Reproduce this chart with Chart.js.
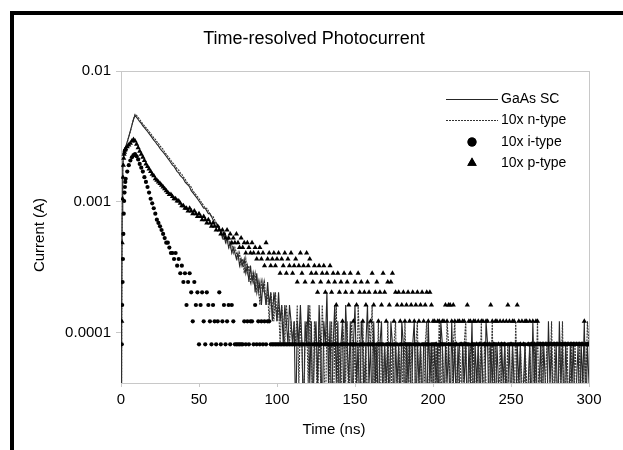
<!DOCTYPE html>
<html>
<head>
<meta charset="utf-8">
<title>Time-resolved Photocurrent</title>
<script src="https://cdn.jsdelivr.net/npm/chart.js@4.4.1/dist/chart.umd.min.js"></script>
<style>
  html, body { margin: 0; padding: 0; background: #fff; }
  canvas { display: block; }
</style>
</head>
<body>
<canvas id="grafik" width="623" height="450"></canvas>
<script>
// sample times in ns: quarter steps over the rise, then 1 ns
const timeNs = [
  0, 0.25, 0.5, 0.75, 1, 1.25, 1.5, 1.75, 2, 2.25, 2.5, 2.75, 3,
  4, 5, 6, 7, 8, 9,
  10, 11, 12, 13, 14, 15, 16, 17, 18, 19,
  20, 21, 22, 23, 24, 25, 26, 27, 28, 29,
  30, 31, 32, 33, 34, 35, 36, 37, 38, 39,
  40, 41, 42, 43, 44, 45, 46, 47, 48, 49,
  50, 51, 52, 53, 54, 55, 56, 57, 58, 59,
  60, 61, 62, 63, 64, 65, 66, 67, 68, 69,
  70, 71, 72, 73, 74, 75, 76, 77, 78, 79,
  80, 81, 82, 83, 84, 85, 86, 87, 88, 89,
  90, 91, 92, 93, 94, 95, 96, 97, 98, 99,
  100, 101, 102, 103, 104, 105, 106, 107, 108, 109,
  110, 111, 112, 113, 114, 115, 116, 117, 118, 119,
  120, 121, 122, 123, 124, 125, 126, 127, 128, 129,
  130, 131, 132, 133, 134, 135, 136, 137, 138, 139,
  140, 141, 142, 143, 144, 145, 146, 147, 148, 149,
  150, 151, 152, 153, 154, 155, 156, 157, 158, 159,
  160, 161, 162, 163, 164, 165, 166, 167, 168, 169,
  170, 171, 172, 173, 174, 175, 176, 177, 178, 179,
  180, 181, 182, 183, 184, 185, 186, 187, 188, 189,
  190, 191, 192, 193, 194, 195, 196, 197, 198, 199,
  200, 201, 202, 203, 204, 205, 206, 207, 208, 209,
  210, 211, 212, 213, 214, 215, 216, 217, 218, 219,
  220, 221, 222, 223, 224, 225, 226, 227, 228, 229,
  230, 231, 232, 233, 234, 235, 236, 237, 238, 239,
  240, 241, 242, 243, 244, 245, 246, 247, 248, 249,
  250, 251, 252, 253, 254, 255, 256, 257, 258, 259,
  260, 261, 262, 263, 264, 265, 266, 267, 268, 269,
  270, 271, 272, 273, 274, 275, 276, 277, 278, 279,
  280, 281, 282, 283, 284, 285, 286, 287, 288, 289,
  290, 291, 292, 293, 294, 295, 296, 297, 298, 299,
  300
];

// scope readings in counts (one count = ampsPerCount), null = no point shown
const ampsPerCount = 4.05e-5;

const gaasCounts = [
  0, 0, 3, 20, 38, 48, 54, 58, 61, 62, 63, 64, 65,
  71, 78, 86, 95, 105, 113,
  109, 105, 101, 98, 94, 91, 88, 85, 82, 79,
  76, 73, 71, 68, 66, 63, 61, 59, 57, 55,
  53, 51, 49, 47, 46, 44, 42, 41, 39, 38,
  37, 35, 34, 33, 32, 30, 29, 28, 27, 26,
  25, 24, 23, 22, 22, 21, 20, 20, 19, 18,
  17, 17, 16, 15, 15, 13, 14, 12, 13, 11,
  12, 10, 11, 10, 9, 10, 8, 9, 8, 9,
  7, 8, 6, 8, 6, 7, 5, 7, 5, 6,
  4, 6, 5, 4, 6, 4, 5, 3, 5, 4,
  3, 5, 3, 4, 2, 4, 3, 2, 4, 3,
  2, 3, 0, 3, 2, 4, 2, 0, 3, 2,
  4, 1, 3, 0, 2, 3, 1, 4, 2, 0,
  3, 2, 5, 1, 3, 0, 2, 4, 1, 3,
  0, 2, 3, 0, 4, 2, 1, 3, 0, 2,
  4, 1, 2, 0, 3, 2, 0, 2, 4, 1,
  2, 0, 3, 1, 2, 0, 2, 3, 0, 2,
  1, 2, 0, 3, 2, 0, 2, 1, 2, 0,
  3, 2, 0, 2, 1, 2, 0, 2, 3, 0,
  2, 1, 2, 0, 2, 2, 0, 3, 1, 2,
  0, 2, 1, 2, 0, 3, 2, 0, 2, 1,
  2, 0, 3, 1, 2, 0, 2, 1, 0, 2,
  1, 2, 0, 2, 1, 3, 0, 2, 1, 2,
  0, 2, 1, 0, 3, 2, 0, 2, 1, 2,
  0, 2, 1, 0, 2, 1, 2, 0, 1, 2,
  0, 2, 1, 0, 2, 1, 2, 0, 1, 2,
  0, 1, 2, 0, 3, 1, 2, 0, 1, 2,
  0, 2, 1, 0, 3, 1, 2, 0, 1, 2,
  0, 3, 1, 2, 0, 2, 1, 0, 2, 1,
  2, 0, 1, 2, 0, 2, 1, 3, 0, 2,
  1
];

const nTypeCounts = [
  0, 0, 2, 18, 36, 47, 53, 57, 60, 61, 62, 63, 64,
  70, 77, 85, 95, 106, 115,
  113, 109, 105, 101, 97, 94, 91, 88, 85, 82,
  79, 76, 74, 71, 69, 66, 64, 62, 59, 57,
  55, 53, 51, 49, 48, 46, 44, 43, 41, 40,
  38, 37, 35, 34, 33, 32, 30, 29, 28, 27,
  26, 25, 24, 23, 22, 22, 21, 20, 19, 19,
  18, 17, 16, 16, 14, 15, 13, 14, 12, 13,
  11, 12, 10, 11, 10, 9, 10, 8, 9, 7,
  9, 7, 8, 6, 7, 6, 7, 5, 6, 4,
  6, 5, 6, 4, 5, 3, 5, 4, 3, 5,
  3, 4, 2, 4, 3, 2, 4, 3, 2, 3,
  2, 3, 2, 4, 1, 3, 2, 0, 2, 3,
  1, 4, 2, 0, 3, 2, 0, 3, 1, 4,
  2, 0, 3, 2, 1, 3, 0, 2, 4, 1,
  2, 0, 3, 2, 1, 3, 0, 2, 3, 1,
  2, 0, 4, 2, 0, 3, 1, 2, 0, 3,
  2, 4, 0, 2, 1, 3, 0, 2, 1, 2,
  0, 3, 1, 2, 0, 2, 3, 0, 2, 1,
  2, 0, 3, 1, 2, 0, 2, 1, 0, 2,
  3, 0, 2, 1, 0, 2, 3, 0, 2, 1,
  2, 0, 2, 1, 3, 0, 2, 1, 0, 3,
  2, 1, 0, 2, 3, 1, 0, 2, 1, 0,
  2, 3, 0, 1, 2, 0, 2, 1, 0, 2,
  1, 3, 0, 2, 1, 0, 2, 1, 3, 0,
  2, 1, 0, 2, 1, 0, 2, 1, 2, 0,
  1, 2, 0, 3, 1, 0, 2, 1, 0, 2,
  1, 0, 2, 1, 0, 2, 1, 3, 0, 1,
  2, 0, 1, 2, 0, 1, 3, 0, 2, 1,
  0, 2, 1, 3, 0, 1, 2, 0, 1, 2,
  0, 2, 1, 0, 2, 1, 0, 2, 1, 3,
  2
];

const iTypeCounts = [
  null, null, 2, 4, 6, 9, 14, 20, 25, 29, 32, 35, 37,
  42, 47, 51, 54, 56, 57,
  55, 52, 48, 45, 42, 38, 35, 32, 29, 26,
  24, 22, 20, 18, 17, 16, 15, 14, 13, 12,
  12, 11, 10, 10, 9, 10, 8, 9, 7, 8,
  6, 7, 4, 6, 7, 5, 3, 6, 4, 5,
  2, 4, 5, 3, 2, 5, 4, 3, 2, 4,
  3, 2, 3, 5, 2, 3, 4, 2, 3, 4,
  2, 4, 3, 2, 2, 2, 2, 2, 2, 3,
  2, 3, 2, 3, 3, 2, 4, 2, 3, 2,
  3, 2, 3, 2, 3, 3, 2, 2, 2, 2,
  2, 2, 2, 2, 2, 2, 2, 2, 2, 2,
  2, 2, 2, null, 2, 2, 2, 2, null, 2,
  2, 2, null, 2, 2, 2, 2, 2, 2, null,
  2, 2, 2, 2, null, 2, 2, 2, 2, 2,
  null, 2, 2, 2, 2, 2, null, 2, 2, 2,
  2, 2, null, 2, 2, 2, 2, null, 2, 2,
  2, 2, 2, null, 2, 2, 2, 2, 2, null,
  2, 2, 2, 2, null, 2, 2, 2, null, 2,
  2, null, 2, 2, 2, 2, 2, null, 2, 2,
  2, 2, null, 2, 2, 2, 2, 2, null, 2,
  2, 2, 2, null, 2, 2, 2, 2, 2, null,
  2, 2, null, 2, 2, 2, null, 2, 2, 2,
  2, 2, 2, 2, null, 2, 2, 2, null, 2,
  2, null, 2, 2, 2, 2, null, 2, 2, 2,
  2, 2, null, 2, 2, 2, 2, null, 2, 2,
  2, 2, 2, null, 2, 2, 2, null, 2, 2,
  null, 2, 2, 2, 2, null, 2, 2, 2, 2,
  2, 2, null, 2, 2, 2, null, 2, 2, 2,
  2, null, 2, 2, 2, 2, 2, null, 2, 2,
  2, 2, null, 2, 2, 2, 2, null, 2, 2,
  2
];

const pTypeCounts = [
  null, null, 3, 12, 26, 38, 47, 53, 57, 59, 61, 62, 63,
  65, 67, 69, 72, 74, 72,
  68, 64, 60, 57, 54, 51, 48, 46, 44, 42,
  40, 39, 37, 36, 35, 34, 33, 32, 31, 30,
  29, 28, 28, 27, 26, 26, 25, 25, 24, 23,
  23, 22, 22, 21, 22, 21, 20, 21, 20, 19,
  20, 19, 18, 19, 18, 17, 18, 17, 16, 17,
  16, 15, 16, 15, 14, 15, 14, 13, 15, 13,
  14, 12, 13, 12, 14, 12, 11, 13, 11, 12,
  10, 12, 11, 10, 12, 10, 11, 9, 10, 11,
  9, 10, 8, 12, 9, 10, 8, 9, 10, 8,
  9, 10, 7, 9, 8, 10, 7, 9, 8, 10,
  7, 8, 9, 6, 8, 10, 7, 8, 6, 10,
  8, 9, 7, 6, 8, 7, 5, 8, 6, 7,
  8, 5, 7, 6, 8, 5, 7, 6, 4, 7,
  5, 6, 3, 7, 5, 6, 4, 7, 5, 3,
  6, 4, 7, 5, 6, 3, 5, 4, 6, 5,
  3, 7, 4, 5, 6, 3, 5, 4, 7, 5,
  3, 6, 4, 6, 7, 3, 5, 4, 5, 3,
  4, 5, 3, 4, 5, 3, 4, 5, 3, 4,
  5, 3, 4, 5, 3, 4, 5, 3, 5, 4,
  3, 3, 2, 3, 3, 2, 3, 3, 4, 3,
  4, 4, 3, 4, 3, 2, 3, 3, 2, 3,
  3, 2, 4, 3, 3, 2, 3, 3, 2, 3,
  2, 3, 3, 2, 3, 3, 2, 4, 3, 2,
  3, 3, 2, 3, 2, 3, 2, 3, 4, 3,
  2, 3, 3, 2, 4, 3, 2, 3, 2, 3,
  3, 2, 3, 2, 3, 2, 3, 3, 2, 2,
  2, 2, 2, 2, 2, 2, 2, 2, 2, 2,
  2, 2, 2, 2, 2, 2, 2, 2, 2, 2,
  2, 2, 2, 2, 2, 2, 2, 3, 2, 2,
  2
];

const yTickValues = [0.0001, 0.001, 0.01];
const xTickStep = 50;

// zero counts can't sit on a log axis: draw them just under the floor
function noktalar(counts) {
    return counts.map((c, i) => ({
        x: timeNs[i],
        y: c === null ? null : (c === 0 ? 0.5 : c) * ampsPerCount
    }));
}

Chart.defaults.font.family = '"Liberation Sans", Arial, sans-serif';
Chart.defaults.color = '#000';

const cerceve = {
    id: 'cerceve',
    beforeDraw(chart) {
        const c = chart.ctx;
        c.save();
        c.fillStyle = '#fff';
        c.fillRect(0, 0, chart.width, chart.height);
        c.fillStyle = '#000';
        c.fillRect(10, 11, chart.width - 10, 4);
        c.fillRect(10, 11, 4, chart.height - 11);
        c.restore();
    },
    beforeDatasetsDraw(chart) {
        const a = chart.chartArea, c = chart.ctx;
        c.save();
        c.strokeStyle = '#c8c8c8';
        c.lineWidth = 1;
        c.strokeRect(Math.round(a.left) + 0.5, Math.round(a.top) + 0.5,
            Math.round(a.right - a.left), Math.round(a.bottom - a.top));
        c.restore();
    },
    afterDraw(chart) {
        const a = chart.chartArea, c = chart.ctx;
        c.save();
        c.fillStyle = '#000';
        c.textBaseline = 'middle';
        c.textAlign = 'center';
        c.font = '18px "Liberation Sans", Arial, sans-serif';
        c.fillText('Time-resolved Photocurrent', 314, 39);
        c.font = '15px "Liberation Sans", Arial, sans-serif';
        c.fillText('Time (ns)', 334, 430);
        c.save();
        c.translate(40, 235);
        c.rotate(-Math.PI / 2);
        c.fillText('Current (A)', 0, 0);
        c.restore();

        // legend inside the plot area
        const x0 = a.right - 143, x1 = a.right - 91, xm = a.right - 117, xt = a.right - 88;
        const rows = [a.top + 28, a.top + 49, a.top + 71, a.top + 92];
        c.font = '14px "Liberation Sans", Arial, sans-serif';
        c.textAlign = 'left';
        chart.data.datasets.forEach((ds, k) => {
            const y = rows[k];
            if (ds.showLine) {
                c.save();
                c.strokeStyle = ds.borderColor;
                c.lineWidth = 1;
                c.setLineDash(ds.borderDash || []);
                c.beginPath();
                c.moveTo(x0, y + 0.5);
                c.lineTo(x1, y + 0.5);
                c.stroke();
                c.restore();
            } else {
                Chart.helpers.drawPoint(c, {
                    pointStyle: ds.pointStyle, radius: ds.pointStyle === 'triangle' ? 5.5 : 4.5,
                    borderWidth: 0
                }, xm, y);
                c.fillStyle = '#000';
                c.fill();
            }
            c.fillStyle = '#000';
            c.fillText(ds.label, xt, y);
        });
        c.restore();
    }
};

const ctx = document.getElementById('grafik').getContext('2d');
const grafik = new Chart(ctx, {
    type: 'scatter',
    data: {
        datasets: [
            { label: 'GaAs SC', data: noktalar(gaasCounts), showLine: true,
              borderColor: '#262626', borderWidth: 1.1, pointRadius: 0, order: 3 },
            { label: '10x n-type', data: noktalar(nTypeCounts), showLine: true,
              borderColor: '#333333', borderWidth: 1.1, borderDash: [2, 1], pointRadius: 0, order: 2 },
            { label: '10x i-type', data: noktalar(iTypeCounts), showLine: false,
              pointStyle: 'circle', pointRadius: 2.1, backgroundColor: '#000', borderWidth: 0, order: 1 },
            { label: '10x p-type', data: noktalar(pTypeCounts), showLine: false,
              pointStyle: 'triangle', pointRadius: 3.0, backgroundColor: '#000', borderWidth: 0, order: 0 }
        ]
    },
    options: {
        responsive: false,
        animation: false,
        devicePixelRatio: 1,
        layout: { padding: { top: 71, right: 34, bottom: 0, left: 0 } },
        plugins: {
            legend: { display: false },
            tooltip: { enabled: false },
            title: { display: false }
        },
        scales: {
            x: {
                type: 'linear', min: 0, max: 300,
                ticks: { stepSize: xTickStep, font: { size: 15 }, padding: 4, maxRotation: 0 },
                grid: { drawOnChartArea: false, tickLength: 4, color: '#c8c8c8' },
                border: { color: '#c8c8c8' },
                afterFit: s => { s.height = 67; }
            },
            y: {
                type: 'logarithmic', min: 4.1e-5, max: 0.01,
                afterBuildTicks: s => { s.ticks = yTickValues.map(v => ({ value: v })); },
                ticks: { callback: v => String(v), font: { size: 15 }, padding: 5 },
                grid: { drawOnChartArea: false, tickLength: 5, color: '#c8c8c8' },
                border: { color: '#c8c8c8' },
                afterFit: s => { s.width = 121; }
            }
        }
    },
    plugins: [cerceve]
});
</script>
</body>
</html>
